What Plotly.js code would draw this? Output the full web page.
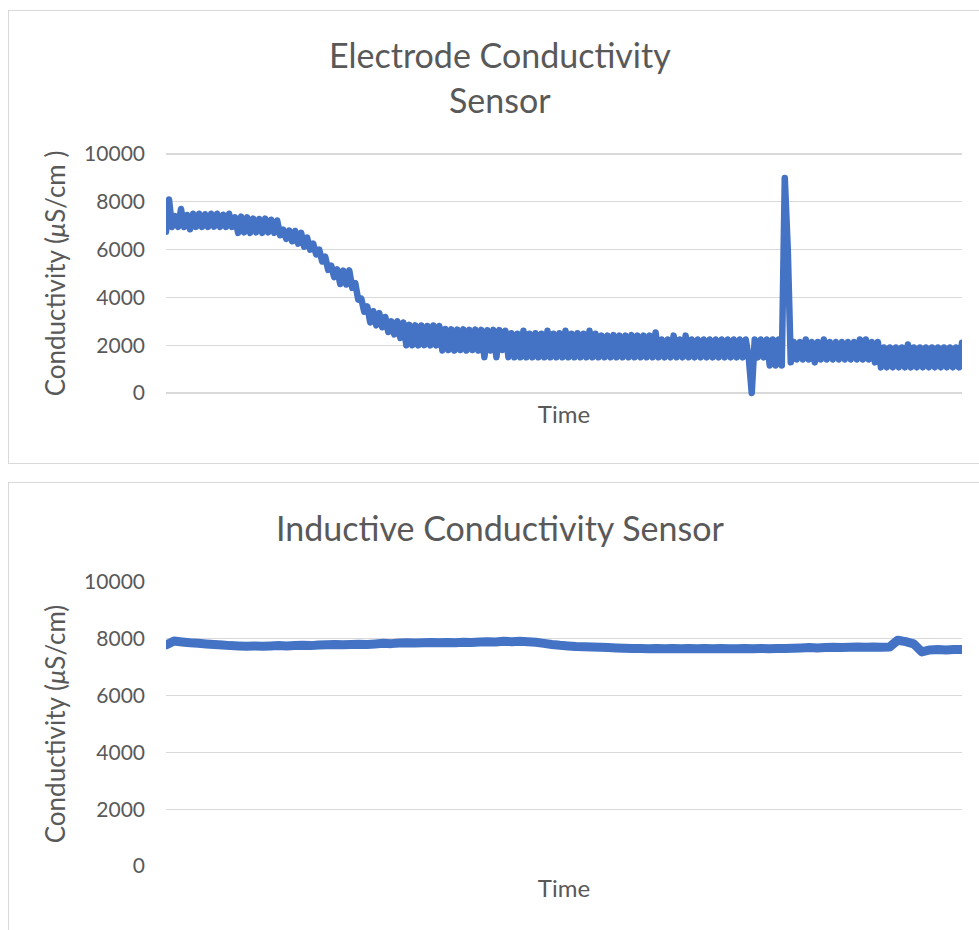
<!DOCTYPE html>
<html>
<head>
<meta charset="utf-8">
<script src="https://cdn.plot.ly/plotly-3.0.1.min.js"></script>
<style>
  html, body { margin: 0; padding: 0; background: #ffffff; overflow: hidden; width: 979px; height: 930px; }
  .box { position: absolute; border: 1px solid #D9D9D9; background: #ffffff; }
  #chart { position: absolute; left: 0; top: 0; width: 979px; height: 930px; }
  path.js-line { stroke-linejoin: round !important; stroke-linecap: round !important; }
</style>
</head>
<body>
<div class="box" style="left:8px; top:10px; width:1000px; height:452px;"></div>
<div class="box" style="left:8px; top:482px; width:1000px; height:500px;"></div>
<div id="chart"></div>
<script>
// ---- Data ----
const titleElectrode = "Electrode Conductivity";
const titleElectrode2 = "Sensor";
const titleInductive = "Inductive Conductivity Sensor";
const xTitle = "Time";
const yTitleElectrode = "Conductivity (<i>μ</i>S/cm )";
const yTitleInductive = "Conductivity (<i>μ</i>S/cm)";
const yTicks = [0, 2000, 4000, 6000, 8000, 10000];
const yTickText = ["0", "2000", "4000", "6000", "8000", "10000"];

// Electrode sensor conductivity (µS/cm), noisy samples in time order
const electrodeConductivity = [
  6750, 8100, 6950, 7400, 6950, 7700, 6950, 7450, 6850, 7500,
  6950, 7500, 6950, 7480, 6950, 7500, 6960, 7500, 6950, 7460,
  6950, 7500, 6950, 7350, 6700, 7380, 6720, 7350, 6700, 7300,
  6720, 7280, 6700, 7300, 6720, 7250, 6700, 7220, 6600, 6840,
  6450, 6800, 6350, 6780, 6250, 6700, 6120, 6500, 6000, 6250,
  5800, 6000, 5500, 5700, 5150, 5330, 4850, 5170, 4560, 5120,
  4540, 5130, 4400, 4600, 3900, 3950, 3400, 3620, 2950, 3420,
  2830, 3340, 2750, 3180, 2550, 3000, 2450, 3000, 2300, 2950,
  2000, 2850, 2000, 2830, 1990, 2820, 2000, 2800, 1990, 2820,
  1990, 2800, 1780, 2680, 1800, 2660, 1780, 2650, 1800, 2660,
  1780, 2640, 1800, 2650, 1780, 2640, 1500, 2620, 1780, 2640,
  1500, 2630, 1800, 2600, 1500, 2500, 1490, 2480, 1490, 2600,
  1490, 2480, 1490, 2500, 1490, 2480, 1490, 2600, 1490, 2480,
  1490, 2500, 1490, 2600, 1490, 2480, 1490, 2500, 1490, 2480,
  1490, 2600, 1490, 2480, 1490, 2400, 1490, 2400, 1490, 2420,
  1490, 2400, 1490, 2400, 1490, 2420, 1490, 2400, 1490, 2400,
  1490, 2400, 1490, 2530, 1490, 2240, 1490, 2240, 1490, 2400,
  1490, 2240, 1490, 2400, 1490, 2240, 1490, 2240, 1490, 2240,
  1490, 2240, 1490, 2240, 1490, 2240, 1490, 2240, 1490, 2240,
  1490, 2240, 1490, 2240, 1490, 0,    2240, 1490, 2240, 1490,
  2240, 1150, 2240, 1150, 2240, 1150, 9000, 6000, 1280, 2130,
  1400, 2130, 1400, 2240, 1400, 2130, 1280, 2130, 1400, 2240,
  1400, 2130, 1400, 2130, 1400, 2130, 1400, 2130, 1400, 2130,
  1400, 2240, 1400, 2240, 1400, 2130, 1280, 2130, 1070, 1900,
  1070, 1900, 1070, 1900, 1070, 1900, 1070, 2030, 1070, 1900,
  1070, 1900, 1070, 1900, 1070, 1900, 1070, 1900, 1070, 1900,
  1070, 1900, 1070, 1900, 1070, 2100
];

// Inductive sensor conductivity (µS/cm), samples in time order
const inductiveConductivity = [
  7780, 7920, 7890, 7860, 7840, 7820, 7800, 7780, 7760, 7750,
  7740, 7750, 7740, 7750, 7760, 7750, 7760, 7770, 7760, 7780,
  7790, 7800, 7790, 7800, 7810, 7800, 7820, 7840, 7830, 7850,
  7860, 7850, 7860, 7870, 7860, 7870, 7860, 7880, 7870, 7890,
  7900, 7890, 7910, 7900, 7910, 7900, 7880, 7840, 7800, 7770,
  7750, 7730, 7720, 7710, 7700, 7690, 7680, 7670, 7660, 7660,
  7650, 7660, 7650, 7660, 7650, 7660, 7650, 7660, 7650, 7660,
  7650, 7650, 7660, 7650, 7660, 7650, 7660, 7660, 7670, 7680,
  7690, 7680, 7690, 7700, 7690, 7700, 7710, 7700, 7710, 7700,
  7710, 7950, 7900, 7820, 7540, 7610, 7620, 7610, 7620, 7620
];

const electrodeTime = electrodeConductivity.map((_, i) => i);
const inductiveTime = inductiveConductivity.map((_, i) => i);

// ---- Styling ----
const W = 979, H = 930;
const FONT = "Lato, 'Open Sans', 'DejaVu Sans', sans-serif";
const TEXT = "#595959";
const GRID = "#D9D9D9";
const BLUE = "#4472C4";
const px = v => v / W;
const py = v => 1 - v / H;

const traces = [
  { x: electrodeTime, y: electrodeConductivity, type: "scatter", mode: "lines",
    line: { color: BLUE, width: 6.5, simplify: false }, xaxis: "x", yaxis: "y", hoverinfo: "skip", showlegend: false },
  { x: inductiveTime, y: inductiveConductivity, type: "scatter", mode: "lines",
    line: { color: BLUE, width: 9, simplify: false }, xaxis: "x2", yaxis: "y2", hoverinfo: "skip", showlegend: false }
];

function xAxis(n, anchor, standoff) {
  return {
    domain: [px(166), px(962)], range: [0, n - 1], anchor: anchor,
    showgrid: false, zeroline: false, showline: false, showticklabels: false, ticks: "",
    title: { text: xTitle, font: { family: FONT, size: 24, color: TEXT }, standoff: standoff },
    fixedrange: true
  };
}
function yAxis(domain, range, anchor, titleText, standoff) {
  return {
    domain: domain, range: range, anchor: anchor,
    tickmode: "array", tickvals: yTicks, ticktext: yTickText,
    showgrid: true, gridcolor: GRID, gridwidth: 1.3, zeroline: false, showline: false, ticks: "",
    ticklabelstandoff: 20,
    tickfont: { family: FONT, size: 21, color: TEXT },
    title: { text: titleText, font: { family: FONT, size: 26, color: TEXT }, standoff: standoff },
    fixedrange: true
  };
}

const layout = {
  width: W, height: H,
  margin: { l: 0, r: 0, t: 0, b: 0 },
  paper_bgcolor: "rgba(0,0,0,0)", plot_bgcolor: "rgba(0,0,0,0)",
  font: { family: FONT, color: TEXT },
  showlegend: false,
  xaxis: xAxis(electrodeConductivity.length, "y", 9),
  yaxis: yAxis([py(397), py(150)], [-170, 10170], "x", yTitleElectrode, 10),
  xaxis2: xAxis(inductiveConductivity.length, "y2", 14),
  yaxis2: yAxis([py(866), py(582)], [0, 10000], "x2", yTitleInductive, 10),
  annotations: [
    { text: titleElectrode, xref: "paper", yref: "paper", x: px(500), y: py(54),
      xanchor: "center", yanchor: "middle", showarrow: false, font: { family: FONT, size: 34, color: TEXT } },
    { text: titleElectrode2, xref: "paper", yref: "paper", x: px(500), y: py(99),
      xanchor: "center", yanchor: "middle", showarrow: false, font: { family: FONT, size: 34, color: TEXT } },
    { text: titleInductive, xref: "paper", yref: "paper", x: px(500), y: py(527),
      xanchor: "center", yanchor: "middle", showarrow: false, font: { family: FONT, size: 34, color: TEXT } }
  ]
};

Plotly.newPlot("chart", traces, layout, { staticPlot: true, displayModeBar: false });
</script>
</body>
</html>
